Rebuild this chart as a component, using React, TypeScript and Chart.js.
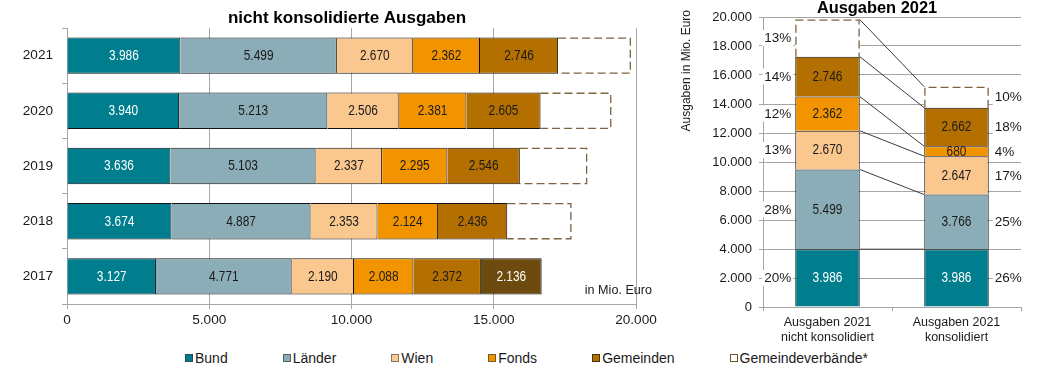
import React, { useEffect, useRef } from 'react';
import { Chart, registerables } from 'chart.js';

Chart.register(...registerables);

const FONT = '"Liberation Sans", Arial, Helvetica, sans-serif';

// ---------- left chart: nicht konsolidierte Ausgaben ----------
const years = ['2021', '2020', '2019', '2018', '2017'];
const bund = [3986, 3940, 3636, 3674, 3127];
const laender = [5499, 5213, 5103, 4887, 4771];
const wien = [2670, 2506, 2337, 2353, 2190];
const fonds = [2362, 2381, 2295, 2124, 2088];
const gemeinden = [2746, 2605, 2546, 2436, 2372];
const gemeindeverbaende = [2560, 2490, 2370, 2260, 2136];
const gemeindeverbaendeEstimated = [true, true, true, true, false];
const xTickMax = 20000;
const xTickStep = 5000;

// ---------- right chart: Ausgaben 2021 ----------
const columns = [
  ['Ausgaben 2021', 'nicht konsolidiert'],
  ['Ausgaben 2021', 'konsolidiert'],
];
const bund2021 = [3986, 3986];
const laender2021 = [5499, 3766];
const wien2021 = [2670, 2647];
const fonds2021 = [2362, 680];
const gemeinden2021 = [2746, 2662];
const gemeindeverbaende2021 = [2560, 1450];
const yTickMax = 20000;
const yTickStep = 2000;

const seriesNames = ['Bund', 'Länder', 'Wien', 'Fonds', 'Gemeinden', 'Gemeindeverbände*'];
const seriesColors = ['#007E8E', '#8BADB7', '#FAC78F', '#F29400', '#B36F00', '#FFFFFF'];
const legendBorders = ['#2b4a4f', '#4f6266', '#8a7560', '#7a5a20', '#4a3410', '#6b5530'];
const gv2017Color = '#6D4A0D';
const dashColor = '#7D6340';
const gridColor = '#A6A6A6';
const textColor = '#1a1a1a';

const fmt = (n: number) => String(Math.round(n)).replace(/\B(?=(\d{3})+(?!\d))/g, '.');

function barBox(el: any) {
  const p = el.getProps(['x', 'y', 'base', 'width', 'height', 'horizontal'], true);
  if (p.horizontal) {
    return { l: Math.min(p.x, p.base), r: Math.max(p.x, p.base), t: p.y - p.height / 2, b: p.y + p.height / 2, horizontal: true };
  }
  return { l: p.x - p.width / 2, r: p.x + p.width / 2, t: Math.min(p.y, p.base), b: Math.max(p.y, p.base), horizontal: false };
}

const dashedPlugin = {
  id: 'dashedBars',
  afterDatasetsDraw(chart: any) {
    const ctx = chart.ctx;
    ctx.save();
    ctx.strokeStyle = dashColor;
    ctx.lineWidth = 1.3;
    ctx.setLineDash([8, 4]);
    chart.data.datasets.forEach((ds: any, di: number) => {
      if (!ds.dashed) return;
      chart.getDatasetMeta(di).data.forEach((el: any, i: number) => {
        if (!ds.dashed[i]) return;
        const bx = barBox(el);
        const o = 0.65;
        ctx.beginPath();
        if (bx.horizontal) {
          ctx.moveTo(bx.l, bx.t + o);
          ctx.lineTo(bx.r - o, bx.t + o);
          ctx.lineTo(bx.r - o, bx.b - o);
          ctx.lineTo(bx.l, bx.b - o);
        } else {
          ctx.moveTo(bx.l + o, bx.b);
          ctx.lineTo(bx.l + o, bx.t + o);
          ctx.lineTo(bx.r - o, bx.t + o);
          ctx.lineTo(bx.r - o, bx.b);
        }
        ctx.stroke();
      });
    });
    ctx.restore();
  },
};

// value labels: 14px tall, condensed like the reference's narrow face
const valueLabelsPlugin = {
  id: 'valueLabels',
  afterDatasetsDraw(chart: any, _args: any, opts: any) {
    const ctx = chart.ctx;
    ctx.save();
    ctx.font = `${opts.size || 14}px ${FONT}`;
    ctx.textAlign = 'center';
    ctx.textBaseline = 'middle';
    const sx = opts.scaleX || 0.85;
    chart.data.datasets.forEach((ds: any, di: number) => {
      chart.getDatasetMeta(di).data.forEach((el: any, i: number) => {
        if (ds.dashed && ds.dashed[i]) return;
        const v = ds.data[i];
        if (v == null) return;
        const c = el.getCenterPoint();
        ctx.fillStyle = Array.isArray(ds.labelColor) ? ds.labelColor[i] : ds.labelColor;
        ctx.save();
        ctx.translate(c.x, c.y + 0.5);
        ctx.scale(sx, 1);
        ctx.fillText(fmt(v), 0, 0);
        ctx.restore();
      });
    });
    ctx.restore();
  },
};

const textPlugin = {
  id: 'fixedTexts',
  afterDraw(chart: any, _args: any, opts: any) {
    const ctx = chart.ctx;
    (opts.items || []).forEach((it: any) => {
      ctx.save();
      ctx.font = `${it.bold ? 'bold ' : ''}${it.size}px ${FONT}`;
      ctx.fillStyle = it.color || textColor;
      ctx.textAlign = it.align || 'center';
      ctx.textBaseline = 'middle';
      ctx.translate(it.x, it.y);
      if (it.rotate) ctx.rotate(it.rotate);
      ctx.fillText(it.text, 0, 0);
      ctx.restore();
    });
  },
};

const unitNotePlugin = {
  id: 'unitNote',
  afterDraw(chart: any) {
    const ctx = chart.ctx;
    const a = chart.chartArea;
    ctx.save();
    ctx.font = `12.6px ${FONT}`;
    ctx.fillStyle = textColor;
    ctx.textAlign = 'right';
    ctx.textBaseline = 'middle';
    ctx.fillText('in Mio. Euro', a.right + 16, a.bottom - 13);
    ctx.restore();
  },
};

const connectorPlugin = {
  id: 'connectors',
  afterDatasetsDraw(chart: any) {
    const ctx = chart.ctx;
    ctx.save();
    ctx.strokeStyle = '#3a3a3a';
    ctx.lineWidth = 1;
    chart.data.datasets.forEach((_ds: any, di: number) => {
      const meta = chart.getDatasetMeta(di);
      const a = barBox(meta.data[0]);
      const b = barBox(meta.data[1]);
      ctx.beginPath();
      ctx.moveTo(a.r, a.t);
      ctx.lineTo(b.l, b.t);
      ctx.stroke();
    });
    ctx.restore();
  },
};

const percentPlugin = {
  id: 'percentLabels',
  afterDatasetsDraw(chart: any) {
    const ctx = chart.ctx;
    const dss = chart.data.datasets;
    const totals = [0, 1].map((i) => dss.reduce((s: number, d: any) => s + d.data[i], 0));
    ctx.save();
    ctx.font = `13.5px ${FONT}`;
    ctx.textBaseline = 'middle';
    dss.forEach((ds: any, di: number) => {
      const meta = chart.getDatasetMeta(di);
      [0, 1].forEach((i) => {
        const bx = barBox(meta.data[i]);
        const txt = Math.round((ds.data[i] / totals[i]) * 100) + '%';
        const w = ctx.measureText(txt).width;
        const cy = (bx.t + bx.b) / 2;
        const x0 = i === 0 ? bx.l - 4 - w : bx.r + 6;
        ctx.fillStyle = '#ffffff';
        ctx.fillRect(x0 - 2, cy - 8, w + 4, 16);
        ctx.fillStyle = textColor;
        ctx.textAlign = 'left';
        ctx.fillText(txt, x0, cy + 0.5);
      });
    });
    ctx.restore();
  },
};

export default function App() {
  const leftRef = useRef<HTMLCanvasElement>(null);
  const rightRef = useRef<HTMLCanvasElement>(null);

  useEffect(() => {
    const leftSeries = [bund, laender, wien, fonds, gemeinden, gemeindeverbaende];
    const left = new Chart(leftRef.current as HTMLCanvasElement, {
      type: 'bar',
      data: {
        labels: years,
        datasets: leftSeries.map((d, k) => ({
          label: seriesNames[k],
          data: d,
          backgroundColor: k === 5 ? years.map((_y, i) => (gemeindeverbaendeEstimated[i] ? '#FFFFFF' : gv2017Color)) : seriesColors[k],
          borderColor: '#111',
          borderWidth: k === 5 ? years.map((_y, i) => (gemeindeverbaendeEstimated[i] ? 0 : 1)) : 1,
          categoryPercentage: 1,
          barPercentage: 0.66,
          dashed: k === 5 ? gemeindeverbaendeEstimated : null,
          labelColor: k === 0 ? '#ffffff' : k === 5 ? years.map((_y, i) => (gemeindeverbaendeEstimated[i] ? textColor : '#ffffff')) : textColor,
        })) as any,
      },
      options: {
        indexAxis: 'y',
        responsive: false,
        animation: false,
        devicePixelRatio: 1,
        layout: { padding: { left: 0, right: 64, top: 28, bottom: 0 } },
        scales: {
          x: {
            stacked: true,
            min: 0,
            max: xTickMax,
            ticks: { stepSize: xTickStep, callback: (v: any) => fmt(Number(v)), font: { family: FONT, size: 13.6 }, color: textColor, padding: 3 },
            grid: { color: gridColor, tickLength: 5, tickColor: gridColor },
            border: { color: gridColor },
            afterFit: (s: any) => { s.height = 36; },
          },
          y: {
            stacked: true,
            ticks: { font: { family: FONT, size: 13.6 }, color: textColor, padding: 9 },
            grid: { drawOnChartArea: false, tickLength: 5, color: gridColor, offset: true },
            border: { color: gridColor },
            afterFit: (s: any) => { s.width = 67; },
          },
        },
        plugins: {
          legend: { display: false },
          tooltip: { enabled: false },
          title: { display: false },
          valueLabels: { size: 14, scaleX: 0.85 },
          fixedTexts: {
            items: [{ text: 'nicht konsolidierte Ausgaben', x: 347, y: 18, size: 17, bold: true, color: '#000' }],
          },
        } as any,
      },
      plugins: [dashedPlugin, valueLabelsPlugin, unitNotePlugin, textPlugin],
    });

    const rightSeries = [bund2021, laender2021, wien2021, fonds2021, gemeinden2021, gemeindeverbaende2021];
    const right = new Chart(rightRef.current as HTMLCanvasElement, {
      type: 'bar',
      data: {
        labels: columns as any,
        datasets: rightSeries.map((d, k) => ({
          label: seriesNames[k],
          data: d,
          backgroundColor: seriesColors[k],
          borderColor: '#111',
          borderWidth: k === 5 ? 0 : 1,
          categoryPercentage: 1,
          barPercentage: 0.5,
          dashed: k === 5 ? [true, true] : null,
          labelColor: k === 0 ? '#ffffff' : textColor,
        })) as any,
      },
      options: {
        responsive: false,
        animation: false,
        devicePixelRatio: 1,
        layout: { padding: { left: 0, right: 42, top: 17, bottom: 0 } },
        scales: {
          x: {
            stacked: true,
            ticks: { font: { family: FONT, size: 12.5, lineHeight: 1.2 }, color: textColor, padding: 4.5 },
            grid: { drawOnChartArea: false, tickLength: 4, color: gridColor, offset: true },
            border: { color: gridColor },
            afterFit: (s: any) => { s.height = 38; },
          },
          y: {
            stacked: true,
            min: 0,
            max: yTickMax,
            ticks: { stepSize: yTickStep, callback: (v: any) => fmt(Number(v)), font: { family: FONT, size: 13 }, color: textColor, padding: 7 },
            grid: { color: gridColor, tickLength: 4, tickColor: gridColor },
            border: { color: gridColor },
            afterFit: (s: any) => { s.width = 83; },
          },
        },
        plugins: {
          legend: { display: false },
          tooltip: { enabled: false },
          title: { display: false },
          valueLabels: { size: 14, scaleX: 0.85 },
          fixedTexts: {
            items: [
              { text: 'Ausgaben 2021', x: 197, y: 8, size: 16.4, bold: true, color: '#000' },
              { text: 'Ausgaben in Mio. Euro', x: 7, y: 10, size: 12, align: 'right', rotate: -Math.PI / 2 },
            ],
          },
        } as any,
      },
      plugins: [connectorPlugin, dashedPlugin, percentPlugin, valueLabelsPlugin, textPlugin],
    });

    return () => {
      left.destroy();
      right.destroy();
    };
  }, []);

  return (
    <div style={{ position: 'fixed', left: 0, top: 0, width: 1063, height: 376, background: '#fff', overflow: 'hidden' }}>
      <canvas ref={leftRef} width={700} height={340} style={{ position: 'absolute', left: 0, top: 0 }} />
      <canvas ref={rightRef} width={383} height={345} style={{ position: 'absolute', left: 680, top: 0 }} />
      <div
        style={{
          position: 'absolute',
          left: 185,
          top: 350,
          display: 'flex',
          gap: 55,
          fontFamily: FONT,
          fontSize: 14,
          lineHeight: '16px',
          color: textColor,
          whiteSpace: 'nowrap',
        }}
      >
        {seriesNames.map((n, i) => (
          <div key={n} style={{ display: 'flex', alignItems: 'center' }}>
            <span
              style={{
                display: 'inline-block',
                width: 8,
                height: 8,
                boxSizing: 'border-box',
                border: '1px solid ' + legendBorders[i],
                background: seriesColors[i],
                marginRight: 2,
              }}
            />
            {n}
          </div>
        ))}
      </div>
    </div>
  );
}
